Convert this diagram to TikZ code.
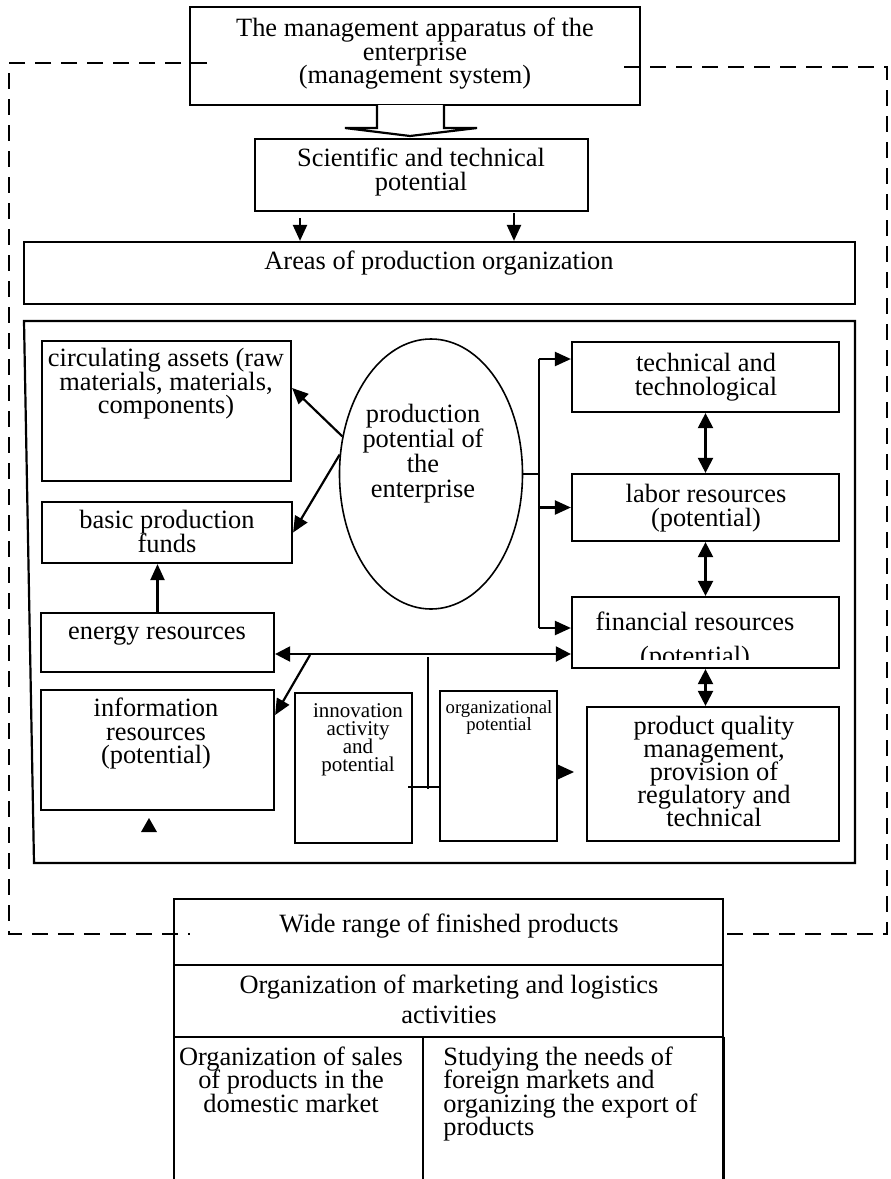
\documentclass[tikz,border=0pt]{standalone}
\usepackage{fontspec}
\setmainfont{Liberation Serif}
\usetikzlibrary{arrows.meta,shapes.geometric,fit}

\begin{document}
\setlength{\lineskiplimit}{-10pt}
\begin{tikzpicture}[x=0.5pt,y=-0.5pt,
  box/.style={draw, line width=1.1pt, inner sep=0pt},
  txt/.style={font=\fontsize{13.2}{11.75}\selectfont, align=center, inner sep=0pt, anchor=north},
  smalltxt/.style={font=\fontsize{10.5}{9}\selectfont, align=center, inner sep=0pt, anchor=north},
  arr/.style={line width=1.1pt, -{Triangle[length=8pt,width=7pt]}},
  darr/.style={line width=1.1pt, {Triangle[length=7.5pt,width=7.5pt]}-{Triangle[length=7.5pt,width=7.5pt]}},
  frame/.style={line width=1.1pt, dash pattern=on 8pt off 5pt}
]
\useasboundingbox (0,0) rectangle (890,1179);

% Management apparatus
\node[box, fit={(190,7) (640,105)}] (mgmt) {};
\node[txt] (mgmt-t) at (415,18) {The management apparatus of the\\enterprise\\(management system)};

% Dashed border of the enterprise
\draw[frame] (207,63) -- (9,63) -- (9,934) -- (190,934);
\draw[frame] (624,67) -- (887,67) -- (887,934) -- (723,934);

% Hollow arrow
\draw[line width=1.1pt, fill=white] (377,105) -- (377,128) -- (345,128) -- (410,136) -- (477,128) -- (444,128) -- (444,105);

% Scientific and technical potential
\node[box, fit={(255,139) (588,211)}] (sci) {};
\node[txt] (sci-t) at (421,148) {Scientific and technical\\potential};

% Areas of production organization
\node[box, fit={(24,242) (855,304)}] (areas) {};
\node[txt] (areas-t) at (439,251) {Areas of production organization};
\coordinate (s1) at (300,218);
\coordinate (s2) at (514,213);
\draw[arr] (s1) -- (s1 |- areas.north);
\draw[arr] (s2) -- (s2 |- areas.north);

% Inner frame
\draw[line width=1.1pt] (24,321) -- (855,321) -- (855,863) -- (34,863) -- cycle;

% Left column
\node[box, fit={(42,341) (291,481)}] (circ) {};
\node[txt] (circ-t) at (166,348) {circulating assets (raw\\materials, materials,\\components)};
\node[box, fit={(42,502) (292,563)}] (basic) {};
\node[txt] (basic-t) at (167,510) {basic production\\funds};
\node[box, fit={(41,613) (274,672)}] (energy) {};
\node[txt] (energy-t) at (157,626) {energy resources};
\node[box, fit={(41,690) (274,810)}] (info) {};
\node[txt] (info-t) at (156,698) {information\\resources\\(potential)};

% Production potential
\node[draw, ellipse, line width=0.8pt, minimum width=91.5pt, minimum height=135pt, inner sep=0pt] (pot) at (431,474) {};
\node[txt, font=\fontsize{13.2}{12.5}\selectfont] (pot-t) at (423,404) {production\\potential of\\the\\enterprise};

% Right column
\node[box, fit={(572,342) (839,412)}] (tech) {};
\node[txt] (tech-t) at (706,353) {technical and\\technological};
\node[box, fit={(572,474) (839,541)}] (labor) {};
\node[txt] (labor-t) at (706,484) {labor resources\\(potential)};
\node[box, fit={(572,597) (839,668)}] (fin) {};
\begin{scope}
\clip (572,597) rectangle (839,659);
\node[txt, font=\fontsize{13.2}{17}\selectfont] (fin-t) at (695,612) {financial resources\\(potential)};
\end{scope}
\node[box, fit={(587,707) (839,841)}] (qual) {};
\node[txt, font=\fontsize{13.2}{11.5}\selectfont] (qual-t) at (714,716) {product quality\\management,\\provision of\\regulatory and\\technical};

% Middle boxes
\node[box, fit={(295,693) (412,843)}] (innov) {};
\node[smalltxt] (innov-t) at (358,703) {innovation\\activity\\and\\potential};
\node[box, fit={(440,691) (557,841)}] (org) {};
\node[smalltxt, font=\fontsize{9.35}{8.5}\selectfont] (org-t) at (499,700) {organizational\\potential};

% Links from the production potential
\draw[arr] (pot.157) -- ([yshift=11.5pt]circ.east);
\draw[arr] (pot.168) -- (basic.east);
\draw[arr] (energy.north) -- (energy.north |- basic.south);
\coordinate (bt) at (539,359);
\coordinate (bb) at (539,628);
\draw[line width=1.1pt] (pot.east) -- (pot.east -| bt);
\draw[line width=1.1pt] (bt) -- (bb);
\draw[arr] (bt) -- (bt -| tech.west);
\draw[arr] (bt |- labor.west) -- (labor.west);
\draw[arr] (bb) -- (bb -| fin.west);
\draw[darr] (tech.south) -- (labor.north);
\draw[darr] (labor.south) -- (fin.north);
\draw[darr] (fin.south) -- (fin.south |- qual.north);

% Lower links
\draw[darr] ([yshift=-5.75pt]energy.east) -- ([yshift=-5.75pt]energy.east -| fin.west);
\coordinate (d1) at (310,655);
\draw[arr] (d1) -- ([yshift=17.5pt]info.east);
\coordinate (v1) at (428,657);
\coordinate (v2) at (428,789);
\draw[line width=1.1pt] (v1) -- (v2);
\coordinate (h1) at (408,787);
\draw[line width=1.1pt] (h1) -- (h1 -| org.west);
\draw[arr] ([yshift=-3pt]org.east) -- ++(16,0);
\fill (141,832) -- (157,832) -- (149,818) -- cycle;

% Finished products and marketing
\node[box, fit={(174,899) (723,965)}] (wide) {};
\node[txt] (wide-t) at (449,913) {Wide range of finished products};
\node[box, fit={(174,965) (723,1037)}] (mkt) {};
\node[txt, font=\fontsize{13.2}{15}\selectfont] (mkt-t) at (449,974) {Organization of marketing and logistics\\activities};

% Sales cells
\node[inner sep=0pt, fit={(174,1037) (423,1179)}] (sales) {};
\node[inner sep=0pt, fit={(423,1037) (723,1179)}] (export) {};
\draw[line width=1.1pt] (sales.south west) -- (sales.north west);
\draw[line width=1.1pt] (export.north west) -- (export.south west);
\draw[line width=1.1pt] (export.north east) -- (export.south east);
\node[txt] (sales-t) at (291,1046) {Organization of sales\\of products in the\\domestic market};
\node[txt, align=left, anchor=north west] (export-t) at (443,1046) {Studying the needs of\\foreign markets and\\organizing the export of\\products};

\end{tikzpicture}
\end{document}
